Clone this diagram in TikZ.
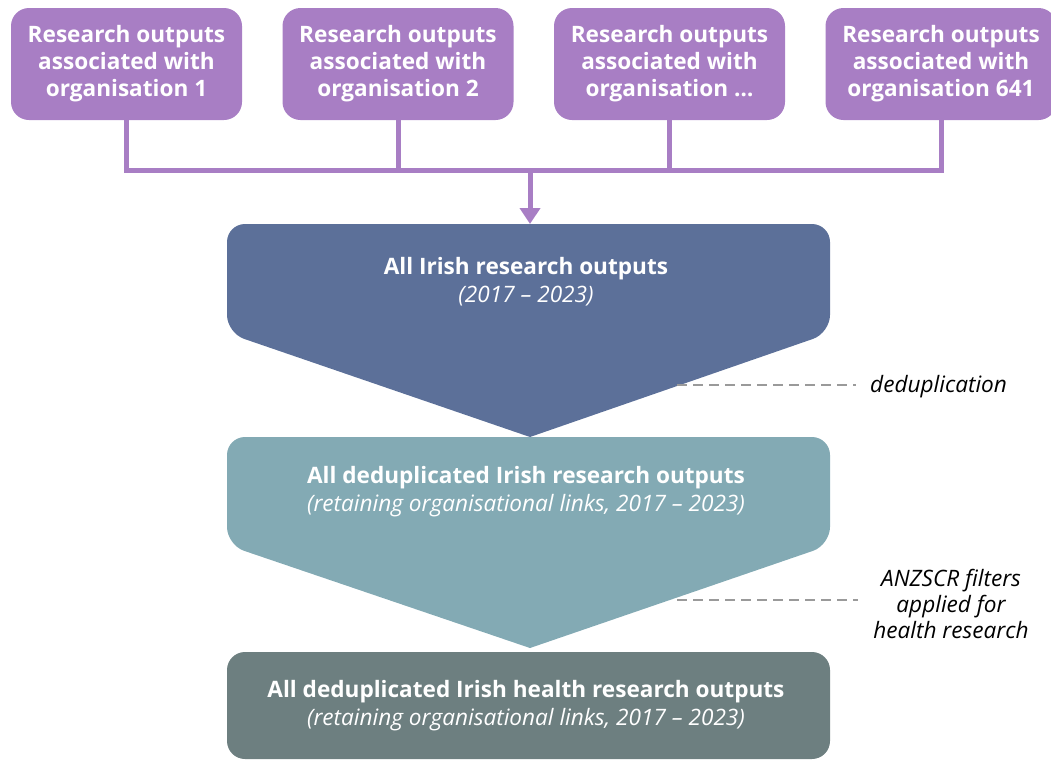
\documentclass[tikz,border=0pt]{standalone}
\usepackage{fontspec}
\setmainfont{Open Sans}
\usetikzlibrary{arrows.meta}
\definecolor{purp}{HTML}{A87EC4}
\definecolor{shapeA}{HTML}{5C7099}
\definecolor{shapeB}{HTML}{83AAB4}
\definecolor{shapeC}{HTML}{6D7F80}
\definecolor{dashgray}{HTML}{9A9A9A}
\tikzset{
  topbox/.style={fill=purp, text=white, rounded corners=18pt, minimum width=231pt,
    minimum height=112pt, inner sep=0pt, align=center,
    font=\fontsize{22.6}{27}\selectfont\bfseries},
  flowtext/.style={text=white, align=center, inner sep=0pt,
    font=\fontsize{22.6}{28}\selectfont},
  sidelabel/.style={text=black, align=center, inner sep=0pt,
    font=\fontsize{22.6}{26}\selectfont\itshape},
  purpline/.style={draw=purp, line width=5pt},
  dashline/.style={draw=dashgray, line width=1.5pt, dash pattern=on 10pt off 6pt}
}
\begin{document}
\begin{tikzpicture}[x=1pt,y=-1pt]
\useasboundingbox (0,0) rectangle (1051,761);
\clip (0,0) rectangle (1051,761);
% top boxes
\node[topbox] (o1) at (126.5,64) {Research outputs\\associated with\\organisation 1};
\node[topbox] (o2) at (398,64) {Research outputs\\associated with\\organisation 2};
\node[topbox] (o3) at (669.5,64) {Research outputs\\associated with\\organisation \dots};
\node[topbox] (o4) at (941,64) {Research outputs\\associated with\\organisation 641};
% connector
\coordinate (j1) at (126.5,170);
\coordinate (j4) at (941,170);
\coordinate (jm) at (530,170);
\draw[purpline, line join=miter] (o1.south) -- (j1) -- (j4) -- (o4.south);
\draw[purpline] (o2.south) -- (o2.south |- jm);
\draw[purpline] (o3.south) -- (o3.south |- jm);
% shapes
\fill[shapeA] (530,437) [rounded corners=18pt] -- (227,333) -- (227,224) -- (830,224) -- (830,333) [sharp corners] -- cycle;
\fill[shapeB] (530,648) [rounded corners=18pt] -- (227,545) -- (227,437) -- (830,437) -- (830,545) [sharp corners] -- cycle;
\fill[shapeC, rounded corners=18pt] (227,652) rectangle (830,759);
\coordinate (s1top) at (530,224);
\draw[purpline, -{Triangle[width=20pt,length=16pt]}] (jm) -- (s1top);
% texts
\node[flowtext] (t1) at (526,282) {\textbf{All Irish research outputs}\\\textit{(2017 – 2023)}};
\node[flowtext] (t2) at (526,492) {\textbf{All deduplicated Irish research outputs}\\\textit{(retaining organisational links, 2017 – 2023)}};
\node[flowtext] (t3) at (526,706) {\textbf{All deduplicated Irish health research outputs}\\\textit{(retaining organisational links, 2017 – 2023)}};
% side labels
\node[sidelabel, anchor=west] (l1) at (870,387) {deduplication};
\node[sidelabel] (l2) at (951,604) {ANZSCR filters\\applied for\\health research};
\coordinate (d1) at (677,385);
\coordinate (d2) at (677,600);
\draw[dashline] (d1) -- (d1 -| 856,0);
\draw[dashline] (d2) -- (d2 -| 858,0);
\end{tikzpicture}
\end{document}
